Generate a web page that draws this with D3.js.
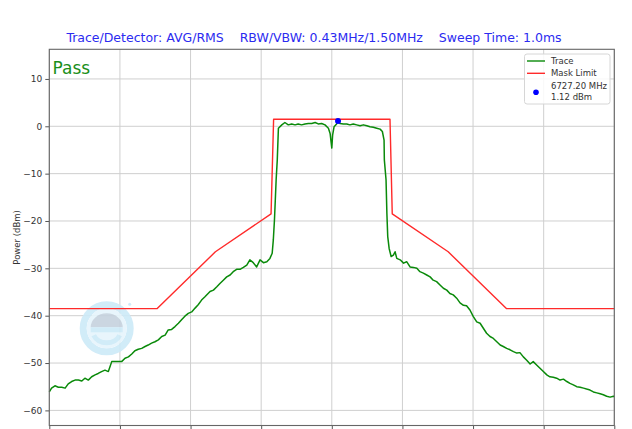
<!DOCTYPE html>
<html><head><meta charset="utf-8">
<script src="https://cdn.jsdelivr.net/npm/d3@7"></script>
<style>
html,body{margin:0;padding:0;background:#fff;}
svg{display:block;font-family:"DejaVu Sans",sans-serif;}
</style></head>
<body><svg id="chart" width="632" height="429"></svg>
<script>
// ---- data ----
const titleText = "Trace/Detector: AVG/RMS    RBW/VBW: 0.43MHz/1.50MHz    Sweep Time: 1.0ms";
const statusText = "Pass";
const yLabel = "Power (dBm)";
const yTicks = [10, 0, -10, -20, -30, -40, -50, -60];
const xTicks = [6625, 6650, 6675, 6700, 6725, 6750, 6775, 6800, 6825];
const legendLabels = ["Trace", "Mask Limit", "6727.20 MHz", "1.12 dBm"];

const traceFreq = [6625.0,6625.8,6627.0,6628.2,6629.4,6630.6,6631.7,6632.9,6634.1,6635.3,6636.5,6637.6,6638.8,6640.0,6641.2,6642.3,6643.5,6644.7,6645.9,6647.1,6648.3,6649.4,6650.6,6651.8,6653.0,6654.2,6655.3,6656.5,6657.7,6658.9,6660.0,6661.2,6662.4,6663.6,6664.8,6666.0,6667.1,6668.3,6669.5,6670.7,6671.9,6673.0,6674.2,6675.4,6676.6,6677.7,6678.9,6680.1,6681.9,6683.1,6684.3,6685.4,6686.6,6687.8,6689.0,6690.1,6691.3,6692.5,6693.7,6694.9,6696.0,6697.2,6698.4,6699.6,6700.8,6702.0,6703.1,6703.9,6704.3,6704.7,6705.0,6705.3,6705.7,6706.1,6707.3,6708.4,6709.6,6710.8,6712.0,6713.1,6714.3,6715.5,6716.7,6717.9,6719.1,6720.2,6721.4,6722.6,6723.8,6724.4,6725.0,6725.3,6725.8,6726.7,6727.2,6727.9,6729.1,6730.3,6731.4,6732.6,6733.8,6735.0,6736.2,6737.4,6738.5,6739.7,6740.9,6742.1,6742.9,6743.5,6743.6,6744.2,6744.5,6744.8,6745.3,6746.0,6746.8,6747.4,6748.0,6749.2,6750.4,6751.5,6752.7,6753.9,6755.1,6756.2,6757.4,6758.6,6759.8,6760.9,6762.1,6763.3,6764.5,6765.7,6766.8,6768.0,6769.2,6770.4,6771.6,6772.7,6773.9,6775.1,6776.3,6777.5,6778.7,6779.8,6781.0,6782.2,6783.4,6784.6,6785.7,6786.9,6788.1,6789.3,6790.5,6791.6,6792.8,6794.0,6795.2,6796.3,6797.5,6798.7,6799.9,6801.1,6802.2,6803.4,6804.6,6805.8,6807.0,6808.2,6809.3,6810.5,6811.7,6812.9,6814.1,6815.2,6816.4,6817.6,6818.8,6820.0,6821.1,6822.3,6823.5,6824.7,6825.0];
const tracePower = [-56.1,-55.3,-54.8,-55.1,-55.1,-55.3,-54.4,-53.9,-53.6,-53.6,-53.8,-53.2,-53.6,-52.9,-52.5,-52.2,-51.8,-51.5,-51.8,-49.7,-49.7,-49.7,-49.7,-49.0,-48.7,-48.1,-47.4,-47.1,-46.9,-46.5,-46.2,-45.8,-45.5,-45.1,-44.4,-44.1,-43.0,-42.9,-42.3,-41.6,-40.8,-40.1,-39.5,-39.2,-38.4,-37.7,-36.7,-36.0,-34.9,-34.6,-33.9,-33.2,-32.5,-31.8,-31.4,-30.7,-30.2,-30.2,-29.8,-29.3,-28.2,-28.8,-29.7,-28.2,-28.8,-28.6,-27.9,-26.8,-24.0,-19.8,-15.6,-11.3,-7.1,-0.4,0.3,0.8,0.3,0.5,0.3,0.5,0.3,0.5,0.6,0.6,0.8,0.5,0.6,0.3,-0.4,-1.5,-4.6,-1.8,-0.1,0.5,1.12,0.6,0.5,0.5,0.3,0.5,0.3,0.1,0.3,0.1,-0.1,-0.2,-0.4,-0.6,-1.1,-2.9,-7.1,-11.3,-18.4,-23.3,-25.8,-27.5,-27.2,-26.5,-27.9,-28.2,-28.9,-28.6,-29.7,-29.8,-30.0,-30.7,-31.0,-31.4,-31.8,-32.5,-32.8,-33.5,-34.2,-34.6,-35.3,-35.6,-36.3,-37.3,-37.8,-37.9,-38.8,-40.2,-41.3,-41.6,-42.7,-43.7,-44.4,-44.8,-45.5,-46.2,-46.5,-46.9,-47.2,-47.6,-47.9,-47.8,-48.7,-49.4,-50.2,-49.7,-50.4,-51.1,-51.8,-52.5,-52.9,-53.0,-53.2,-53.6,-53.4,-53.9,-54.3,-54.6,-55.0,-55.1,-55.3,-55.5,-55.7,-56.1,-56.3,-56.5,-56.7,-57.0,-57.2,-57.0,-57.1];

const maskFreq  = [6625.0, 6663.2, 6683.8, 6703.5, 6704.4, 6745.6, 6746.4, 6766.2, 6786.8, 6825.0];
const maskPower = [-38.5, -38.5, -26.5, -18.5, 1.5, 1.5, -18.5, -26.5, -38.5, -38.5];

const markerFreq = [6727.2];
const markerPower = [1.12];

// ---- layout ----
const svg = d3.select("#chart");
const L = 49.3, R = 614.3, T = 49.3, B = 425.5;
const x = d3.scaleLinear().domain([6625, 6825]).range([L, R]);
const y = d3.scaleLinear().domain([-63.19, 16.26]).range([B, T]);

// title
svg.append("text").attr("x", 314).attr("y", 42).attr("text-anchor", "middle")
  .attr("font-size", 12.5).attr("fill", "#2b2bf0").attr("xml:space","preserve")
  .style("white-space","pre").text(titleText);

// grid
const g = svg.append("g");
g.selectAll("line.gx").data(xTicks).join("line")
  .attr("x1", d => x(d)).attr("x2", d => x(d)).attr("y1", T).attr("y2", B)
  .attr("stroke", "#cfcfcf").attr("stroke-width", 1);
g.selectAll("line.gy").data(yTicks).join("line")
  .attr("x1", L).attr("x2", R).attr("y1", d => y(d)).attr("y2", d => y(d))
  .attr("stroke", "#cfcfcf").attr("stroke-width", 1);

// watermark
const wm = svg.append("g").attr("transform", "translate(106.7,328.3)").attr("opacity", 0.9);
wm.append("circle").attr("r", 23.5).attr("fill", "none").attr("stroke", "#cdeaf8").attr("stroke-width", 7);
wm.append("circle").attr("r", 20).attr("fill", "#e6f5fc");
wm.append("path").attr("d", "M-16,-1 A16,14 0 0 1 16,-1 Z").attr("fill", "#c6d2de");
wm.append("rect").attr("x", -16).attr("y", -1).attr("width", 32).attr("height", 5).attr("fill", "#cdeaf8");
wm.append("path").attr("d", "M-13,7 A14,12 0 0 0 13,7").attr("fill", "none").attr("stroke", "#cdeaf8").attr("stroke-width", 5);
wm.append("circle").attr("cx", 23).attr("cy", -24).attr("r", 1.5).attr("fill", "#cdeaf8");

// mask
const line = d3.line().x(d => x(d[0])).y(d => y(d[1]));
svg.append("path").datum(d3.zip(maskFreq, maskPower)).attr("d", line)
  .attr("fill", "none").attr("stroke", "#ff2a2a").attr("stroke-width", 1.4).attr("stroke-linejoin","round");

// trace
svg.append("path").datum(d3.zip(traceFreq, tracePower)).attr("d", line)
  .attr("fill", "none").attr("stroke", "#0a8a0a").attr("stroke-width", 1.5).attr("stroke-linejoin","round");

// marker
svg.selectAll("circle.mk").data(d3.zip(markerFreq, markerPower)).join("circle")
  .attr("cx", d => x(d[0])).attr("cy", d => y(d[1])).attr("r", 3).attr("fill", "#0000ff");

// axes
const yAxis = d3.axisLeft(y).tickValues(yTicks).tickSize(4).tickPadding(3)
  .tickFormat(d => d < 0 ? "\u2212" + Math.abs(d) : String(d));
const ya = svg.append("g").attr("transform", `translate(${L},0)`).call(yAxis);
ya.select(".domain").remove();
ya.selectAll("text").attr("font-size", 9).attr("fill", "#333").attr("font-family", "DejaVu Sans");
ya.selectAll("line").attr("stroke", "#555");
const xAxis = d3.axisBottom(x).tickValues(xTicks).tickSize(4).tickFormat("");
const xa = svg.append("g").attr("transform", `translate(0,${B})`).call(xAxis);
xa.select(".domain").remove();
xa.selectAll("line").attr("stroke", "#555");

// frame
svg.append("rect").attr("x", L).attr("y", T).attr("width", R - L).attr("height", B - T)
  .attr("fill", "none").attr("stroke", "#666").attr("stroke-width", 1.1);

// pass text
svg.append("text").attr("x", 52.5).attr("y", 74).attr("font-size", 17).attr("fill", "#1a8f1a").text(statusText);

// y label
svg.append("text").attr("transform", `translate(20,${(T + B) / 2}) rotate(-90)`)
  .attr("text-anchor", "middle").attr("font-size", 8.5).attr("fill", "#333").text(yLabel);

// legend
const lg = svg.append("g");
lg.append("rect").attr("x", 524.5).attr("y", 54).attr("width", 85.5).attr("height", 50).attr("rx", 2.5)
  .attr("fill", "#fff").attr("fill-opacity", 0.85).attr("stroke", "#d6d6d6");
lg.append("line").attr("x1", 527).attr("x2", 545).attr("y1", 61).attr("y2", 61).attr("stroke", "#0a8a0a").attr("stroke-width", 1.4);
lg.append("line").attr("x1", 527).attr("x2", 545).attr("y1", 73.3).attr("y2", 73.3).attr("stroke", "#ff2a2a").attr("stroke-width", 1.4);
lg.append("circle").attr("cx", 536).attr("cy", 92.3).attr("r", 2.8).attr("fill", "#0000ff");
const lt = [[legendLabels[0], 64], [legendLabels[1], 76.3], [legendLabels[2], 89], [legendLabels[3], 99.5]];
lg.selectAll("text").data(lt).join("text").attr("x", 551).attr("y", d => d[1])
  .attr("font-size", 8.5).attr("fill", "#333").text(d => d[0]);
</script></body></html>
